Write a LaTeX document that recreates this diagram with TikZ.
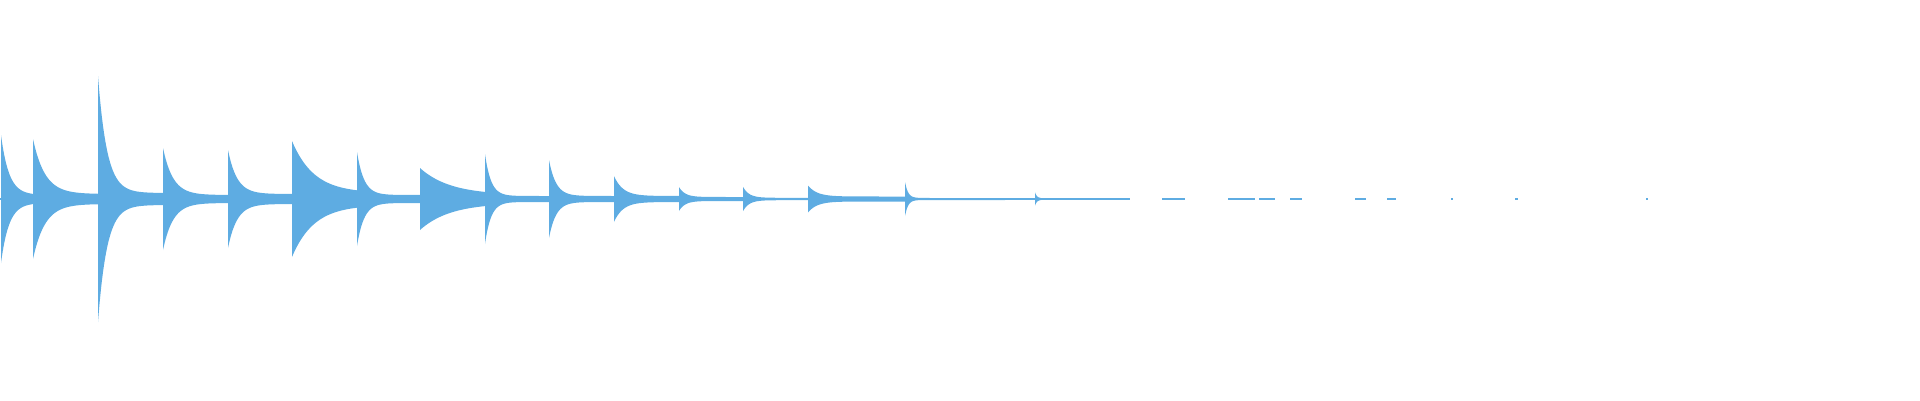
\documentclass[tikz,border=0pt]{standalone}
\definecolor{wavec}{RGB}{94,172,226}
\newcommand\wev[5]{\fill[wavec] plot[domain=0:#5,samples=70] ({#1+\x},{-#2*exp(-\x/#3)-#4}) -- plot[domain=#5:0,samples=70] ({#1+\x},{#2*exp(-\x/#3)+#4}) -- cycle;}
\begin{document}
\begin{tikzpicture}[x=1pt,y=-1pt]
\useasboundingbox (0,-199) rectangle (1920,201);
\draw[wavec,line width=1.2pt] (0,0) -- (1000,0);
\wev{1}{60}{8}{4}{32}
\wev{33}{55}{12}{5}{65}
\wev{98}{117}{9}{6}{65}
\wev{163}{47}{10}{4}{65}
\wev{228}{44}{9}{5}{64}
\wev{292}{52}{22}{6}{65}
\wev{357}{43}{7}{4}{63}
\wev{420}{27}{30}{4}{65}
\wev{485}{42}{6}{3}{64}
\wev{549}{36}{7}{3}{65}
\wev{614}{20}{9}{3}{65}
\wev{679}{10}{6}{2}{64}
\wev{743}{11}{6}{1.2}{65}
\wev{808}{11}{9}{2.5}{97}
\wev{905}{16}{3}{1}{100}
\wev{1035}{6}{2}{0.7}{15}
\begin{scope}[wavec,line width=1.2pt]
\draw (1000,0) -- (1130,0);
\draw (1097,0) -- (1130,0);
\draw (1162,0) -- (1185,0);
\draw (1228,0) -- (1255,0);
\draw (1259,0) -- (1275,0);
\draw (1290,0) -- (1302,0);
\draw (1355,0) -- (1366,0);
\draw (1387,0) -- (1396,0);
\draw (1451,0) -- (1453,0);
\draw (1515,0) -- (1518,0);
\draw (1646,0) -- (1648,0);
\end{scope}
\end{tikzpicture}
\end{document}
